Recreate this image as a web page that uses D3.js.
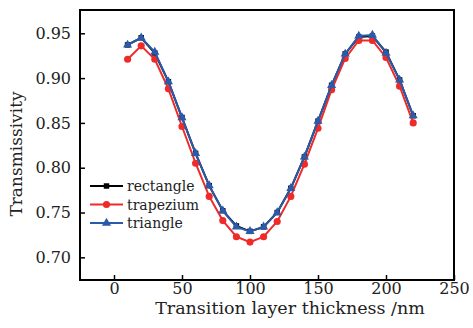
<!DOCTYPE html>
<html><head><meta charset="utf-8">
<script src="https://cdn.jsdelivr.net/npm/d3@7"></script>
<style>body{margin:0;background:#fff}svg{display:block}</style>
</head><body>
<svg id="c" width="473" height="328"></svg>
<script>
const thickness = [10,20,30,40,50,60,70,80,90,100,110,120,130,140,150,160,170,180,190,200,210,220];
const rectangle = [0.937,0.945,0.928,0.896,0.856,0.816,0.780,0.752,0.735,0.729,0.734,0.750,0.777,0.812,0.852,0.892,0.927,0.946,0.947,0.929,0.898,0.858];
const trapezium = [0.921,0.936,0.921,0.888,0.846,0.805,0.768,0.741,0.723,0.717,0.723,0.740,0.768,0.804,0.844,0.887,0.922,0.942,0.942,0.923,0.891,0.850];
const triangle  = [0.937,0.945,0.929,0.896,0.856,0.816,0.780,0.752,0.734,0.729,0.734,0.750,0.777,0.812,0.852,0.892,0.927,0.947,0.948,0.928,0.898,0.858];
const xTicks = [0,50,100,150,200,250];
const yTicks = [0.70,0.75,0.80,0.85,0.90,0.95];
const seriesNames = ["rectangle","trapezium","triangle"];
const seriesColors = ["#000000","#ee2a2a","#2b5aa8"];

const svg = d3.select("#c");
const L=80,R=454,T=10,B=280;
const x = d3.scaleLinear().domain([-25,250]).range([L,R]);
const y = d3.scaleLinear().domain([0.6747,0.976]).range([B,T]);
const font = "DejaVu Serif";

// series
const data = [rectangle, trapezium, triangle];
const line = d3.line().x((d,i)=>x(thickness[i])).y(d=>y(d));
const tri = d3.symbol().type(d3.symbolTriangle).size(36);
const sq = d3.symbol().type(d3.symbolSquare).size(30);
const circ = d3.symbol().type(d3.symbolCircle).size(40);
const syms = [sq, circ, tri];
data.forEach((vals,si)=>{
  const g = svg.append("g");
  g.append("path").attr("d", line(vals)).attr("fill","none")
    .attr("stroke", seriesColors[si]).attr("stroke-width",2);
  g.selectAll("path.m").data(vals).enter().append("path").attr("class","m")
    .attr("d", syms[si]())
    .attr("transform",(d,i)=>`translate(${x(thickness[i])},${y(d)})`)
    .attr("fill", seriesColors[si]);
});

// axes
const xa = svg.append("g").attr("transform",`translate(0,${B})`)
  .call(d3.axisBottom(x).tickValues(xTicks).tickSizeInner(-5).tickSizeOuter(0).tickPadding(3).tickFormat(d3.format("d")));
const ya = svg.append("g").attr("transform",`translate(${L},0)`)
  .call(d3.axisLeft(y).tickValues(yTicks).tickSizeInner(-5).tickSizeOuter(0).tickPadding(9).tickFormat(d3.format(".2f")));
[xa,ya].forEach(a=>{
  a.select(".domain").remove();
  a.selectAll(".tick line").attr("stroke","#000").attr("stroke-width",1.5);
  a.selectAll("text").attr("font-family",font).attr("font-size",16).attr("fill","#222");
});
svg.append("rect").attr("x",L).attr("y",T).attr("width",R-L).attr("height",B-T)
  .attr("fill","none").attr("stroke","#000").attr("stroke-width",2);

// titles
svg.append("text").attr("x",290).attr("y",314).attr("text-anchor","middle")
  .attr("font-family",font).attr("font-size",17.5).attr("fill","#222")
  .text("Transition layer thickness /nm");
svg.append("text").attr("transform","translate(22,154) rotate(-90)").attr("text-anchor","middle")
  .attr("font-family",font).attr("font-size",17).attr("fill","#222")
  .text("Transmissivity");

// legend
const lg = svg.append("g");
seriesNames.forEach((n,i)=>{
  const yy = 186 + i*18.5;
  lg.append("line").attr("x1",90).attr("x2",123).attr("y1",yy).attr("y2",yy)
    .attr("stroke",seriesColors[i]).attr("stroke-width",2);
  lg.append("path").attr("d",syms[i]()).attr("transform",`translate(106.5,${yy})`).attr("fill",seriesColors[i]);
  lg.append("text").attr("x",127).attr("y",yy+5).attr("font-family",font).attr("font-size",14).attr("fill","#222").text(n);
});
</script>
</body></html>
